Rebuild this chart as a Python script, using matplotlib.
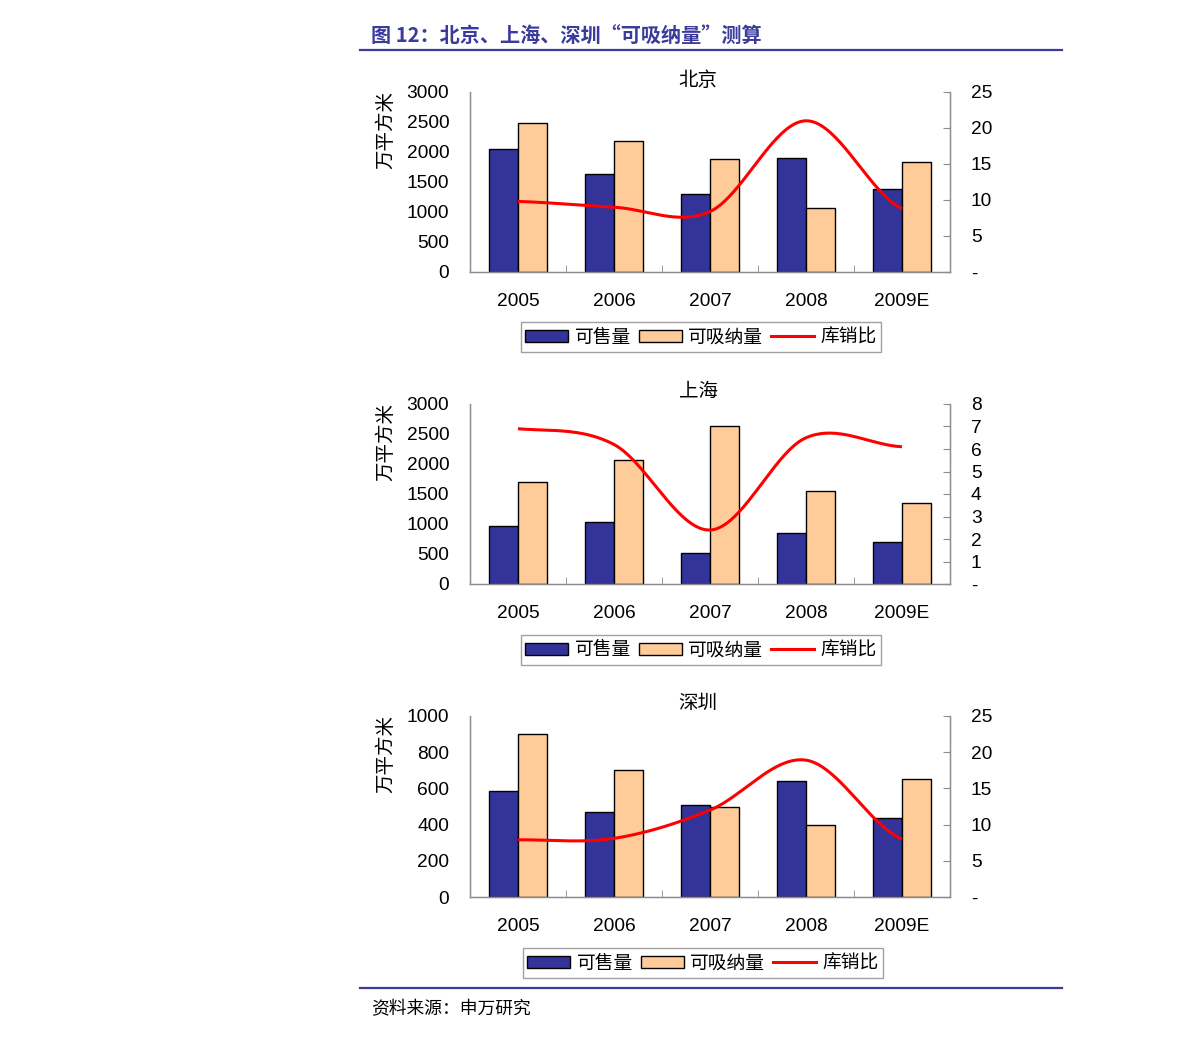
import numpy as np
import matplotlib
matplotlib.use("Agg")
import matplotlib.pyplot as plt
from matplotlib.patches import Patch
from matplotlib.lines import Line2D
from matplotlib.ticker import FixedLocator, FuncFormatter

plt.rcParams['font.family'] = ['Liberation Sans', 'Noto Sans CJK SC', 'DejaVu Sans']
CJK = ['Noto Sans CJK SC', 'DejaVu Sans']

years = ['2005', '2006', '2007', '2008', '2009E']
cities = ['北京', '上海', '深圳']

bj_sale = [2050, 1630, 1300, 1900, 1380]
bj_absorb = [2480, 2180, 1880, 1070, 1830]
bj_ratio = [9.8, 9.0, 8.4, 21.0, 8.8]

sh_sale = [970, 1040, 520, 850, 700]
sh_absorb = [1700, 2070, 2640, 1550, 1350]
sh_ratio = [6.9, 6.2, 2.4, 6.5, 6.1]

sz_sale = [585, 470, 510, 640, 435]
sz_absorb = [900, 700, 500, 400, 650]
sz_ratio = [7.9, 8.1, 12.0, 18.9, 8.0]

left_max = [3000, 3000, 1000]
left_step = [500, 500, 200]
right_max = [25, 8, 25]
right_step = [5, 1, 5]

NAVY = '#333399'
PEACH = '#FFCC99'
GRAY = '#8c8c8c'
BLUE = '#3b3b9c'


def smooth(xs, ys, n=40):
    xs = np.asarray(xs, float)
    ys = np.asarray(ys, float)
    k = len(ys)
    m = np.zeros(k)
    for i in range(k):
        if i == 0:
            m[i] = (ys[1] - ys[0]) / 2
        elif i == k - 1:
            m[i] = (ys[-1] - ys[-2]) / 2
        else:
            m[i] = (ys[i + 1] - ys[i - 1]) / 2
    ox, oy = [], []
    for i in range(k - 1):
        t = np.linspace(0, 1, n, endpoint=(i == k - 2))
        h00 = 2 * t**3 - 3 * t**2 + 1
        h10 = t**3 - 2 * t**2 + t
        h01 = -2 * t**3 + 3 * t**2
        h11 = t**3 - t**2
        oy.append(h00 * ys[i] + h10 * m[i] + h01 * ys[i + 1] + h11 * m[i + 1])
        ox.append(xs[i] + t * (xs[i + 1] - xs[i]))
    return np.concatenate(ox), np.concatenate(oy)


W, H = 1191, 1039
fig = plt.figure(figsize=(W / 100, H / 100), dpi=100)

def fx(px):
    return px / W

def fy(py):
    return 1 - py / H

# header
fig.text(fx(371), fy(36), '图 12：北京、上海、深圳“可吸纳量”测算', family=CJK,
         fontsize=14.5, fontweight='bold', color=BLUE, va='center', ha='left')
fig.add_artist(Line2D([fx(360), fx(1062)], [fy(50), fy(50)], color=BLUE, lw=1.6))
fig.add_artist(Line2D([fx(360), fx(1062)], [fy(988), fy(988)], color=BLUE, lw=1.6))
fig.text(fx(371), fy(1009), '资料来源：申万研究', family=CJK, fontsize=12.8,
         color='black', va='center', ha='left')

panels = [
    (bj_sale, bj_absorb, bj_ratio, 92, 272, 81, 337, 701),
    (sh_sale, sh_absorb, sh_ratio, 404, 584, 391, 650, 701),
    (sz_sale, sz_absorb, sz_ratio, 716, 897, 703, 963, 703),
]

x = np.arange(len(years))
bw = 0.3

for idx, (sale, absorb, ratio, top, bot, ty, ly, lx) in enumerate(panels):
    ax = fig.add_axes([fx(470), fy(bot), fx(950) - fx(470), (bot - top) / H])
    ax.bar(x - bw / 2, sale, bw, color=NAVY, edgecolor='black', linewidth=1.0, zorder=2)
    ax.bar(x + bw / 2, absorb, bw, color=PEACH, edgecolor='black', linewidth=1.0, zorder=2)
    ax.set_xlim(-0.5, len(years) - 0.5)
    ax.set_ylim(0, left_max[idx])
    ax.set_yticks(np.arange(0, left_max[idx] + 1, left_step[idx]))
    ax.tick_params(axis='y', length=0, pad=15, labelsize=13.8)
    ax.set_xticks(x)
    ax.set_xticklabels(years)
    ax.xaxis.set_minor_locator(FixedLocator(np.arange(0.5, len(years) - 1, 1.0)))
    ax.tick_params(axis='x', which='major', length=0, pad=15, labelsize=13.8)
    ax.tick_params(axis='x', which='minor', length=5, direction='in', color=GRAY)
    for s in ['left', 'bottom', 'right']:
        ax.spines[s].set_color(GRAY)
        ax.spines[s].set_linewidth(1.0)
    ax.spines['top'].set_visible(False)

    ax2 = ax.twinx()
    ax2.set_ylim(0, right_max[idx])
    ax2.set_yticks(np.arange(0, right_max[idx] + 0.001, right_step[idx]))
    ax2.yaxis.set_major_formatter(FuncFormatter(lambda v, p: '-' if v == 0 else f'{v:g}'))
    ax2.tick_params(axis='y', direction='in', length=5, color=GRAY, pad=15, labelsize=13.8)
    for s in ['left', 'bottom', 'right']:
        ax2.spines[s].set_color(GRAY)
    ax2.spines['top'].set_visible(False)
    sx, sy = smooth(x, ratio)
    ax2.plot(sx, sy, color='#FF0000', lw=2.2, zorder=3, solid_capstyle='butt')

    fig.text(fx(698), fy(ty), cities[idx], family=CJK, fontsize=14,
             ha='center', va='center')
    fig.text(fx(386), fy(top - 1), '万平方米', family=CJK, fontsize=14,
             rotation=90, ha='center', va='top')

    handles = [Patch(facecolor=NAVY, edgecolor='black', linewidth=1.0),
               Patch(facecolor=PEACH, edgecolor='black', linewidth=1.0),
               Line2D([], [], color='#FF0000', lw=2.2)]
    leg = fig.legend(handles, ['可售量', '可吸纳量', '库销比'], ncol=3,
                     loc='center', bbox_to_anchor=(fx(lx), fy(ly)),
                     prop={'family': CJK, 'size': 13.5},
                     fancybox=False, framealpha=1, edgecolor='#a0a0a0',
                     handlelength=2.3, handleheight=0.6, handletextpad=0.35,
                     columnspacing=0.4, borderpad=0.25, borderaxespad=0)
    leg.get_frame().set_linewidth(1.0)

fig.savefig('out.png', dpi=100)
